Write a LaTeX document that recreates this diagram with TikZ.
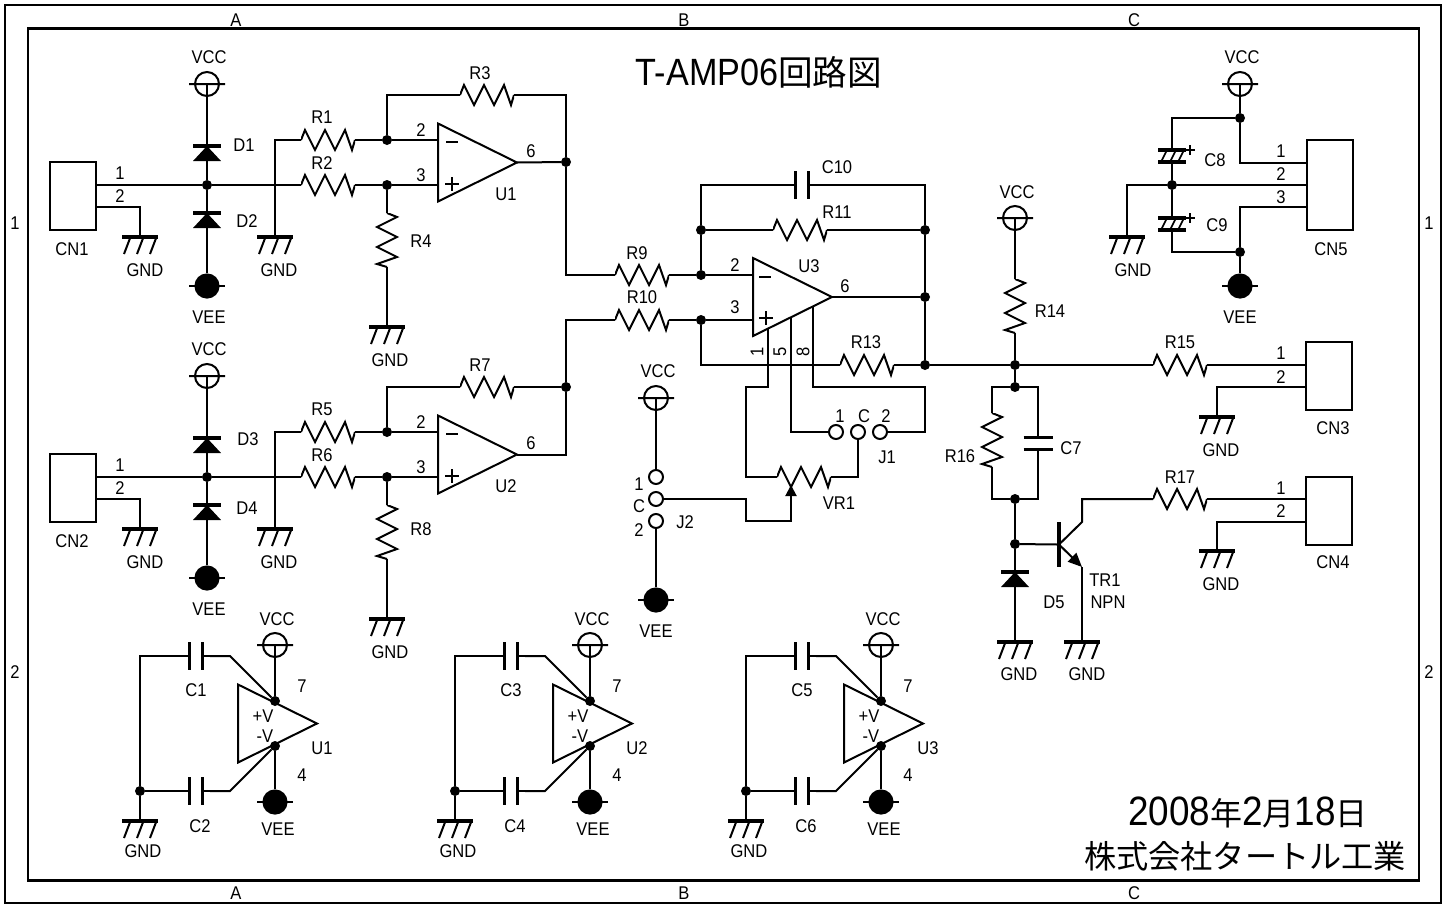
\documentclass[tikz,border=0pt]{standalone}
\usepackage{fontspec}
\setmainfont[FakeStretch=0.9]{Liberation Sans}
\newfontfamily\cjk{Noto Sans CJK JP}
\usetikzlibrary{arrows.meta,shapes.geometric}
\begin{document}
\begin{tikzpicture}
	[x=.5pt, y=-.5pt, inner sep=0pt, outer sep=0pt, line width=1pt,
	txt/.style		= {font=\fontsize{9.2}{11}\selectfont},
	wires/.style	= {line join=miter},
	frame/.style	= {rectangle, draw, line width=1.2pt},
	dot/.style		= {circle, fill, minimum size=5pt},
	jack/.style		= {circle, draw, fill=white, minimum size=7pt},
	conn/.style		= {rectangle, draw, minimum width=23pt, minimum height=34pt},
	wiper/.style	= {-{Triangle[length=5.5pt,width=5.5pt]}},
	emitter/.style	= {-{Triangle[length=7pt,width=6pt]}},
	resh/.style		= {rectangle, minimum width=27pt, minimum height=13pt, path picture={
		\draw [shift={(path picture bounding box.center)}]
			(-27,0) -- (-23,-10) -- (-13,10) -- (-3,-10) -- (7,10) -- (17,-10) -- (24,10) -- (27,0);}},
	resv/.style		= {rectangle, minimum width=13pt, minimum height=27pt, path picture={
		\draw [shift={(path picture bounding box.center)}]
			(0,-27) -- (10,-23) -- (-10,-13) -- (10,-3) -- (-10,7) -- (10,17) -- (-10,24) -- (0,27);}},
	capv/.style		= {rectangle, minimum width=14pt, minimum height=16pt, path picture={
		\draw [shift={(path picture bounding box.center)}] (-14,0) -- (-6.5,0) (6.5,0) -- (14,0);
		\draw [shift={(path picture bounding box.center)}, line width=1.9pt] (-6.5,-14) -- (-6.5,14) (6.5,-14) -- (6.5,14);}},
	caph/.style		= {rectangle, minimum width=16pt, minimum height=14pt, path picture={
		\draw [shift={(path picture bounding box.center)}] (0,-14) -- (0,-6) (0,6) -- (0,14);
		\draw [shift={(path picture bounding box.center)}, line width=1.9pt] (-14.5,-6) -- (14.5,-6) (-14.5,6) -- (14.5,6);}},
	polar/.style	= {rectangle, minimum width=23pt, minimum height=15pt, path picture={
		\draw [shift={(path picture bounding box.center)}] (0,-15) -- (0,-6) (0,6) -- (0,15);
		\draw [shift={(path picture bounding box.center)}, line width=1.9pt] (-14,-6) -- (14,-6) (-14,6) -- (14,6);
		\draw [shift={(path picture bounding box.center)}, line width=.8pt] (-11,6) -- (-5,-6) (-2,6) -- (4,-6) (6,6) -- (12,-6);
		\draw [shift={(path picture bounding box.center)}, line width=1.2pt] (13,-6) -- (23,-6) (18,-11) -- (18,-1);}},
	diode/.style	= {rectangle, minimum width=15pt, minimum height=9pt, path picture={
		\draw [shift={(path picture bounding box.center)}] (0,-9) -- (0,9);
		\draw [shift={(path picture bounding box.center)}, line width=1.8pt] (-14,-7.5) -- (14,-7.5);
		\fill [shift={(path picture bounding box.center)}] (0,-7.5) -- (14,7.5) -- (-14,7.5) -- cycle;}},
	vccsym/.style	= {rectangle, minimum width=19pt, minimum height=14pt, path picture={
		\draw [shift={(path picture bounding box.center)}] (0,0) circle [radius=6pt] (-18,0) -- (18,0);}},
	veesym/.style	= {rectangle, minimum width=19pt, minimum height=13pt, path picture={
		\draw [shift={(path picture bounding box.center)}] (-18,0) -- (18,0);
		\fill [shift={(path picture bounding box.center)}] (0,0) circle [radius=6.3pt];}},
	gnd/.style		= {rectangle, minimum width=20pt, minimum height=10pt, path picture={
		\draw [shift={(path picture bounding box.center)}, line width=2pt] (-18,-8) -- (18,-8);
		\draw [shift={(path picture bounding box.center)}] (-9.5,-8) -- (-16,9) (3.5,-8) -- (-3,9) (16.5,-8) -- (10,9);}},
	opamp/.style	= {isosceles triangle, isosceles triangle stretches, draw, anchor=lower side, minimum width=39pt, minimum height=39.5pt},
	minus/.style	= {rectangle, fill, minimum width=6pt, minimum height=1.3pt},
	plus/.style		= {rectangle, minimum width=7pt, minimum height=7pt, path picture={
		\draw [shift={(path picture bounding box.center)}, line width=1.3pt] (-7,0) -- (7,0) (0,-7) -- (0,7);}},
	base/.style		= {rectangle, fill, minimum width=1.8pt, minimum height=22.5pt}]
	
	\useasboundingbox (0, 0) rectangle (1446, 905);
	
	\node at (723, 454)		[frame, minimum width=718pt, minimum height=449pt]	(outer)	{};
	\node at (723.5, 454.5)	[frame, minimum width=695.5pt, minimum height=426pt]	(inner)	{};
	
	\node at (236, 20)		[txt]	(ta)	{A};
	\node at (684, 20)		[txt]	(tb)	{B};
	\node at (1134, 20)		[txt]	(tc)	{C};
	\node at (236, 893)		[txt]	(ba)	{A};
	\node at (684, 893)		[txt]	(bb)	{B};
	\node at (1134, 893)	[txt]	(bc)	{C};
	\node at (15, 223)		[txt]	(l1)	{1};
	\node at (15, 672)		[txt]	(l2)	{2};
	\node at (1429, 223)	[txt]	(r1)	{1};
	\node at (1429, 672)	[txt]	(r2)	{2};
	
	\node at (759, 72)		[font=\fontsize{19}{22}\selectfont]		(title)	{T-AMP06{\cjk\fontsize{17.3}{22}\selectfont 回路図}};
	\node at (1248, 812)	[font=\fontsize{20.5}{22}\selectfont]	(date)	{2008{\cjk\fontsize{16}{22}\selectfont 年}2{\cjk\fontsize{16}{22}\selectfont 月}18{\cjk\fontsize{16}{22}\selectfont 日}};
	\node at (1245, 856)	[font=\cjk\fontsize{16.1}{22}\selectfont]	(corp)	{株式会社タートル工業};
	
	\node at (72.5, 196)	[conn]	(CN1)	{};
	\node at (72.5, 488)	[conn]	(CN2)	{};
	\node at (1329, 375.5)	[conn]	(CN3)	{};
	\node at (1329, 510.5)	[conn]	(CN4)	{};
	\node at (1329.5, 185)	[conn, minimum height=45pt]	(CN5)	{};
	
	\coordinate (cn1a) at (95, 185);
	\coordinate (cn1b) at (95, 207);
	\coordinate (cn2a) at (95, 477);
	\coordinate (cn2b) at (95, 499);
	\coordinate (cn3a) at (1306.5, 365);
	\coordinate (cn3b) at (1306.5, 387);
	\coordinate (cn4a) at (1306.5, 499);
	\coordinate (cn4b) at (1306.5, 522);
	\coordinate (cn5a) at (1307, 163);
	\coordinate (cn5b) at (1307, 185);
	\coordinate (cn5c) at (1307, 207);
	
	\node at (207, 84)		[vccsym]	(vcc1)	{};
	\node at (207, 376)		[vccsym]	(vcc2)	{};
	\node at (656, 398)		[vccsym]	(vcc3)	{};
	\node at (1015, 218)	[vccsym]	(vcc4)	{};
	\node at (1240, 84)		[vccsym]	(vcc5)	{};
	\node at (275, 645)		[vccsym]	(vcc6)	{};
	\node at (590, 645)		[vccsym]	(vcc7)	{};
	\node at (881, 645)		[vccsym]	(vcc8)	{};
	
	\node at (207, 286)		[veesym]	(vee1)	{};
	\node at (207, 578)		[veesym]	(vee2)	{};
	\node at (656, 600)		[veesym]	(vee3)	{};
	\node at (1240, 286)	[veesym]	(vee4)	{};
	\node at (275, 802)		[veesym]	(vee5)	{};
	\node at (590, 802)		[veesym]	(vee6)	{};
	\node at (881, 802)		[veesym]	(vee7)	{};
	
	\node at (140, 245)		[gnd]	(g1)	{};
	\node at (275, 245)		[gnd]	(g2)	{};
	\node at (387, 335)		[gnd]	(g3)	{};
	\node at (140, 537)		[gnd]	(g4)	{};
	\node at (275, 537)		[gnd]	(g5)	{};
	\node at (387, 627)		[gnd]	(g6)	{};
	\node at (1217, 425)	[gnd]	(g7)	{};
	\node at (1217, 559)	[gnd]	(g8)	{};
	\node at (1015, 650)	[gnd]	(g9)	{};
	\node at (1082, 650)	[gnd]	(g10)	{};
	\node at (1127, 245)	[gnd]	(g11)	{};
	\node at (140, 829)		[gnd]	(g12)	{};
	\node at (455, 829)		[gnd]	(g13)	{};
	\node at (746, 829)		[gnd]	(g14)	{};
	
	\node at (207, 153.5)	[diode]	(D1)	{};
	\node at (207, 220.5)	[diode]	(D2)	{};
	\node at (207, 445.5)	[diode]	(D3)	{};
	\node at (207, 512.5)	[diode]	(D4)	{};
	\node at (1015, 579.5)	[diode]	(D5)	{};
	
	\node at (328, 140)		[resh]	(R1)	{};
	\node at (328, 185)		[resh]	(R2)	{};
	\node at (487, 95)		[resh]	(R3)	{};
	\node at (387, 240)		[resv]	(R4)	{};
	\node at (328, 432)		[resh]	(R5)	{};
	\node at (328, 477)		[resh]	(R6)	{};
	\node at (487, 387)		[resh]	(R7)	{};
	\node at (387, 532)		[resv]	(R8)	{};
	\node at (642, 275)		[resh]	(R9)	{};
	\node at (642, 320)		[resh]	(R10)	{};
	\node at (800, 230)		[resh]	(R11)	{};
	\node at (867, 365)		[resh]	(R13)	{};
	\node at (1015, 306)	[resv]	(R14)	{};
	\node at (1180, 365)	[resh]	(R15)	{};
	\node at (992, 440)		[resv]	(R16)	{};
	\node at (1180, 499)	[resh]	(R17)	{};
	\node at (804, 477)		[resh]	(VR1)	{};
	
	\node at (802, 185)		[capv]	(C10)	{};
	\node at (196, 656)		[capv]	(C1)	{};
	\node at (196, 791)		[capv]	(C2)	{};
	\node at (511, 656)		[capv]	(C3)	{};
	\node at (511, 791)		[capv]	(C4)	{};
	\node at (802, 656)		[capv]	(C5)	{};
	\node at (802, 791)		[capv]	(C6)	{};
	\node at (1038, 443.5)	[caph]	(C7)	{};
	\node at (1172, 156)	[polar]	(C8)	{};
	\node at (1172, 224)	[polar]	(C9)	{};
	
	\node at (438, 162.5)	[opamp]	(U1)	{};
	\node at (438, 454.5)	[opamp]	(U2)	{};
	\node at (753, 297)		[opamp]	(U3)	{};
	\node at (238, 723.5)	[opamp]	(P1)	{};
	\node at (553, 723.5)	[opamp]	(P2)	{};
	\node at (844, 723.5)	[opamp]	(P3)	{};
	
	\node at (452, 142)		[minus]	(m1)	{};
	\node at (452, 184)		[plus]	(p1)	{};
	\node at (452, 434)		[minus]	(m2)	{};
	\node at (452, 476)		[plus]	(p2)	{};
	\node at (765, 277)		[minus]	(m3)	{};
	\node at (766, 318)		[plus]	(p3)	{};
	
	\node at (207, 185)		[dot]	(n1)	{};
	\node at (387, 140)		[dot]	(n2)	{};
	\node at (387, 185)		[dot]	(n3)	{};
	\node at (566, 162)		[dot]	(n4)	{};
	\node at (207, 477)		[dot]	(n5)	{};
	\node at (387, 432)		[dot]	(n6)	{};
	\node at (387, 477)		[dot]	(n7)	{};
	\node at (566, 387)		[dot]	(n8)	{};
	\node at (701, 230)		[dot]	(n9)	{};
	\node at (701, 275)		[dot]	(n10)	{};
	\node at (701, 320)		[dot]	(n11)	{};
	\node at (925, 230)		[dot]	(n12)	{};
	\node at (925, 297)		[dot]	(n13)	{};
	\node at (925, 365)		[dot]	(n14)	{};
	\node at (1015, 365)	[dot]	(n15)	{};
	\node at (1015, 387)	[dot]	(n16)	{};
	\node at (1015, 499)	[dot]	(n17)	{};
	\node at (1015, 544)	[dot]	(n18)	{};
	\node at (1240, 118)	[dot]	(n19)	{};
	\node at (1172, 185)	[dot]	(n20)	{};
	\node at (1240, 252)	[dot]	(n21)	{};
	\node at (275, 701)		[dot]	(n22)	{};
	\node at (275, 746)		[dot]	(n23)	{};
	\node at (140, 791)		[dot]	(n24)	{};
	\node at (590, 701)		[dot]	(n25)	{};
	\node at (590, 746)		[dot]	(n26)	{};
	\node at (455, 791)		[dot]	(n27)	{};
	\node at (881, 701)		[dot]	(n28)	{};
	\node at (881, 746)		[dot]	(n29)	{};
	\node at (746, 791)		[dot]	(n30)	{};
	
	\node at (836, 432)		[jack]	(j1a)	{};
	\node at (858, 432)		[jack]	(j1c)	{};
	\node at (880, 432)		[jack]	(j1b)	{};
	\node at (656, 477)		[jack]	(j2a)	{};
	\node at (656, 499)		[jack]	(j2c)	{};
	\node at (656, 521)		[jack]	(j2b)	{};
	
	\node at (1059, 544.5)	[base]	(TR1)	{};
	
	\coordinate (r3a)	at (387, 95);
	\coordinate (r3b)	at (566, 95);
	\coordinate (r7a)	at (387, 387);
	\coordinate (c10a)	at (701, 185);
	\coordinate (c10b)	at (925, 185);
	\coordinate (pin1)	at (768, 328);
	\coordinate (pin5)	at (791, 317);
	\coordinate (pin8)	at (813, 306);
	\coordinate (k1)	at (746, 387);
	\coordinate (k2)	at (925, 387);
	\coordinate (k3)	at (746, 499);
	\coordinate (k4)	at (791, 521);
	\coordinate (tip)	at (791, 485);
	\coordinate (qc)	at (1082, 522);
	\coordinate (qe)	at (1082, 567);
	\coordinate (c8a)	at (1172, 118);
	\coordinate (c9a)	at (1172, 252);
	\coordinate (c1k)	at (230, 656);
	\coordinate (c2k)	at (230, 791);
	\coordinate (c3k)	at (545, 656);
	\coordinate (c4k)	at (545, 791);
	\coordinate (c5k)	at (836, 656);
	\coordinate (c6k)	at (836, 791);
	
	\draw [wires] (vcc1.center) -- (D1.north);
	\draw [wires] (D1.south) -- (n1) -- (D2.north);
	\draw [wires] (D2.south) -- (vee1.north);
	\draw [wires] (vcc2.center) -- (D3.north);
	\draw [wires] (D3.south) -- (n5) -- (D4.north);
	\draw [wires] (D4.south) -- (vee2.north);
	
	\draw [wires] (cn1a) -- (n1) -- (R2.west);
	\draw [wires] (cn1b) -| (g1.north);
	\draw [wires] (cn2a) -- (n5) -- (R6.west);
	\draw [wires] (cn2b) -| (g4.north);
	\draw [wires] (R1.west) -| (g2.north);
	\draw [wires] (R5.west) -| (g5.north);
	
	\draw [wires] (R1.east) -- (n2) -- (U1.west |- n2);
	\draw [wires] (R2.east) -- (n3) -- (U1.west |- n3);
	\draw [wires] (n2) -- (r3a) -- (R3.west);
	\draw [wires] (R3.east) -- (r3b) -- (n4);
	\draw [wires] (n3) -- (R4.north);
	\draw [wires] (R4.south) -- (g3.north);
	\draw [wires] (U1.apex) -- (n4);
	\draw [wires] (n4) |- (R9.west);
	
	\draw [wires] (R5.east) -- (n6) -- (U2.west |- n6);
	\draw [wires] (R6.east) -- (n7) -- (U2.west |- n7);
	\draw [wires] (n6) -- (r7a) -- (R7.west);
	\draw [wires] (R7.east) -- (n8);
	\draw [wires] (n7) -- (R8.north);
	\draw [wires] (R8.south) -- (g6.north);
	\draw [wires] (U2.apex) -| (n8);
	\draw [wires] (n8) |- (R10.west);
	
	\draw [wires] (R9.east) -- (n10) -- (U3.west |- n10);
	\draw [wires] (R10.east) -- (n11) -- (U3.west |- n11);
	\draw [wires] (n9) -- (R11.west);
	\draw [wires] (R11.east) -- (n12);
	\draw [wires] (n10) -- (n9) -- (c10a) -- (C10.west);
	\draw [wires] (C10.east) -- (c10b) -- (n12) -- (n13) -- (n14);
	\draw [wires] (U3.apex) -- (n13);
	\draw [wires] (n11) |- (R13.west);
	\draw [wires] (R13.east) -- (n14) -- (n15) -- (R15.west);
	\draw [wires] (R15.east) -- (cn3a);
	\draw [wires] (cn3b) -| (g7.north);
	
	\draw [wires] (pin1) |- (k1) |- (VR1.west);
	\draw [wires] (pin5) |- (j1a);
	\draw [wires] (pin8) |- (k2) |- (j1b);
	\draw [wires] (VR1.east) -| (j1c);
	
	\draw [wires] (vcc3.center) -- (j2a);
	\draw [wires] (j2b) -- (vee3.north);
	\draw [wires, wiper] (j2c) -- (k3) |- (k4) -- (tip);
	
	\draw [wires] (vcc4.center) -- (R14.north);
	\draw [wires] (R14.south) -- (n15) -- (n16);
	\draw [wires] (n16) -| (R16.north);
	\draw [wires] (n16) -| (C7.north);
	\draw [wires] (R16.south) |- (n17);
	\draw [wires] (C7.south) |- (n17);
	\draw [wires] (n17) -- (n18) -- (D5.north);
	\draw [wires] (D5.south) -- (g9.north);
	\draw [wires] (n18) -- (TR1.west);
	\draw [wires] (TR1.center) -- (qc) |- (R17.west);
	\draw [wires, emitter] (TR1.center) -- (qe);
	\draw [wires] (qe) -- (g10.north);
	\draw [wires] (R17.east) -- (cn4a);
	\draw [wires] (cn4b) -| (g8.north);
	
	\draw [wires] (vcc5.center) -- (n19) |- (cn5a);
	\draw [wires] (n19) -- (c8a) -- (C8.north);
	\draw [wires] (C8.south) -- (n20) -- (C9.north);
	\draw [wires] (C9.south) -- (c9a) -- (n21);
	\draw [wires] (n21) |- (cn5c);
	\draw [wires] (n21) -- (vee4.north);
	\draw [wires] (cn5b) -- (n20) -| (g11.north);
	
	\draw [wires] (vcc6.center) -- (n22);
	\draw [wires] (n23) -- (vee5.north);
	\draw [wires] (C1.east) -- (c1k) -- (n22);
	\draw [wires] (C2.east) -- (c2k) -- (n23);
	\draw [wires] (C1.west) -| (n24);
	\draw [wires] (C2.west) -- (n24) -- (g12.north);
	
	\draw [wires] (vcc7.center) -- (n25);
	\draw [wires] (n26) -- (vee6.north);
	\draw [wires] (C3.east) -- (c3k) -- (n25);
	\draw [wires] (C4.east) -- (c4k) -- (n26);
	\draw [wires] (C3.west) -| (n27);
	\draw [wires] (C4.west) -- (n27) -- (g13.north);
	
	\draw [wires] (vcc8.center) -- (n28);
	\draw [wires] (n29) -- (vee7.north);
	\draw [wires] (C5.east) -- (c5k) -- (n28);
	\draw [wires] (C6.east) -- (c6k) -- (n29);
	\draw [wires] (C5.west) -| (n30);
	\draw [wires] (C6.west) -- (n30) -- (g14.north);
	
	\node at (72, 249)		[txt]	(tcn1)	{CN1};
	\node at (120, 173)		[txt]	(tcn1a)	{1};
	\node at (120, 196)		[txt]	(tcn1b)	{2};
	\node at (145, 270)		[txt]	(tg1)	{GND};
	\node at (279, 270)		[txt]	(tg2)	{GND};
	\node at (390, 360)		[txt]	(tg3)	{GND};
	\node at (209, 57)		[txt]	(tvcc1)	{VCC};
	\node at (209, 317)		[txt]	(tvee1)	{VEE};
	\node at (244, 145)		[txt]	(td1)	{D1};
	\node at (247, 221)		[txt]	(td2)	{D2};
	\node at (322, 117)		[txt]	(tr1)	{R1};
	\node at (322, 163)		[txt]	(tr2)	{R2};
	\node at (480, 73)		[txt]	(tr3)	{R3};
	\node at (421, 241)		[txt]	(tr4)	{R4};
	\node at (421, 130)		[txt]	(tu1a)	{2};
	\node at (421, 175)		[txt]	(tu1b)	{3};
	\node at (531, 151)		[txt]	(tu1c)	{6};
	\node at (506, 194)		[txt]	(tu1)	{U1};
	
	\node at (72, 541)		[txt]	(tcn2)	{CN2};
	\node at (120, 465)		[txt]	(tcn2a)	{1};
	\node at (120, 488)		[txt]	(tcn2b)	{2};
	\node at (145, 562)		[txt]	(tg4)	{GND};
	\node at (279, 562)		[txt]	(tg5)	{GND};
	\node at (390, 652)		[txt]	(tg6)	{GND};
	\node at (209, 349)		[txt]	(tvcc2)	{VCC};
	\node at (209, 609)		[txt]	(tvee2)	{VEE};
	\node at (248, 439)		[txt]	(td3)	{D3};
	\node at (247, 508)		[txt]	(td4)	{D4};
	\node at (322, 409)		[txt]	(tr5)	{R5};
	\node at (322, 455)		[txt]	(tr6)	{R6};
	\node at (480, 365)		[txt]	(tr7)	{R7};
	\node at (421, 529)		[txt]	(tr8)	{R8};
	\node at (421, 422)		[txt]	(tu2a)	{2};
	\node at (421, 467)		[txt]	(tu2b)	{3};
	\node at (531, 443)		[txt]	(tu2c)	{6};
	\node at (506, 486)		[txt]	(tu2)	{U2};
	
	\node at (637, 253)		[txt]	(tr9)	{R9};
	\node at (642, 297)		[txt]	(tr10)	{R10};
	\node at (837, 167)		[txt]	(tc10)	{C10};
	\node at (837, 212)		[txt]	(tr11)	{R11};
	\node at (866, 342)		[txt]	(tr13)	{R13};
	\node at (735, 265)		[txt]	(tu3a)	{2};
	\node at (735, 307)		[txt]	(tu3b)	{3};
	\node at (845, 286)		[txt]	(tu3c)	{6};
	\node at (809, 266)		[txt]	(tu3)	{U3};
	\node at (757, 352)		[txt, rotate=90]	(tu3d)	{1};
	\node at (780, 352)		[txt, rotate=90]	(tu3e)	{5};
	\node at (803, 352)		[txt, rotate=90]	(tu3f)	{8};
	\node at (840, 416)		[txt]	(tj1a)	{1};
	\node at (864, 416)		[txt]	(tj1c)	{C};
	\node at (886, 416)		[txt]	(tj1b)	{2};
	\node at (887, 457)		[txt]	(tj1)	{J1};
	\node at (839, 503)		[txt]	(tvr1)	{VR1};
	\node at (658, 371)		[txt]	(tvcc3)	{VCC};
	\node at (656, 631)		[txt]	(tvee3)	{VEE};
	\node at (639, 484)		[txt]	(tj2a)	{1};
	\node at (639, 506)		[txt]	(tj2c)	{C};
	\node at (639, 530)		[txt]	(tj2b)	{2};
	\node at (685, 522)		[txt]	(tj2)	{J2};
	
	\node at (1017, 192)	[txt]	(tvcc4)	{VCC};
	\node at (1050, 311)	[txt]	(tr14)	{R14};
	\node at (1180, 342)	[txt]	(tr15)	{R15};
	\node at (960, 456)		[txt]	(tr16)	{R16};
	\node at (1071, 448)	[txt]	(tc7)	{C7};
	\node at (1180, 477)	[txt]	(tr17)	{R17};
	\node at (1054, 602)	[txt]	(td5)	{D5};
	\node at (1105, 580)	[txt]	(ttr1)	{TR1};
	\node at (1108, 602)	[txt]	(tnpn)	{NPN};
	\node at (1019, 674)	[txt]	(tg9)	{GND};
	\node at (1087, 674)	[txt]	(tg10)	{GND};
	\node at (1281, 353)	[txt]	(tcn3a)	{1};
	\node at (1281, 377)	[txt]	(tcn3b)	{2};
	\node at (1333, 428)	[txt]	(tcn3)	{CN3};
	\node at (1221, 450)	[txt]	(tg7)	{GND};
	\node at (1281, 488)	[txt]	(tcn4a)	{1};
	\node at (1281, 511)	[txt]	(tcn4b)	{2};
	\node at (1333, 562)	[txt]	(tcn4)	{CN4};
	\node at (1221, 584)	[txt]	(tg8)	{GND};
	
	\node at (1242, 57)		[txt]	(tvcc5)	{VCC};
	\node at (1240, 317)	[txt]	(tvee4)	{VEE};
	\node at (1215, 160)	[txt]	(tc8)	{C8};
	\node at (1217, 225)	[txt]	(tc9)	{C9};
	\node at (1133, 270)	[txt]	(tg11)	{GND};
	\node at (1281, 151)	[txt]	(tcn5a)	{1};
	\node at (1281, 174)	[txt]	(tcn5b)	{2};
	\node at (1281, 197)	[txt]	(tcn5c)	{3};
	\node at (1331, 249)	[txt]	(tcn5)	{CN5};
	
	\node at (277, 619)		[txt]	(tvcc6)	{VCC};
	\node at (278, 829)		[txt]	(tvee5)	{VEE};
	\node at (143, 851)		[txt]	(tg12)	{GND};
	\node at (196, 690)		[txt]	(tc1)	{C1};
	\node at (200, 826)		[txt]	(tc2)	{C2};
	\node at (263, 716)		[txt]	(tp1a)	{+V};
	\node at (265, 736)		[txt]	(tp1b)	{-V};
	\node at (302, 686)		[txt]	(tp1c)	{7};
	\node at (302, 775)		[txt]	(tp1d)	{4};
	\node at (322, 748)		[txt]	(tp1)	{U1};
	
	\node at (592, 619)		[txt]	(tvcc7)	{VCC};
	\node at (593, 829)		[txt]	(tvee6)	{VEE};
	\node at (458, 851)		[txt]	(tg13)	{GND};
	\node at (511, 690)		[txt]	(tc3)	{C3};
	\node at (515, 826)		[txt]	(tc4)	{C4};
	\node at (578, 716)		[txt]	(tp2a)	{+V};
	\node at (580, 736)		[txt]	(tp2b)	{-V};
	\node at (617, 686)		[txt]	(tp2c)	{7};
	\node at (617, 775)		[txt]	(tp2d)	{4};
	\node at (637, 748)		[txt]	(tp2)	{U2};
	
	\node at (883, 619)		[txt]	(tvcc8)	{VCC};
	\node at (884, 829)		[txt]	(tvee7)	{VEE};
	\node at (749, 851)		[txt]	(tg14)	{GND};
	\node at (802, 690)		[txt]	(tc5)	{C5};
	\node at (806, 826)		[txt]	(tc6)	{C6};
	\node at (869, 716)		[txt]	(tp3a)	{+V};
	\node at (871, 736)		[txt]	(tp3b)	{-V};
	\node at (908, 686)		[txt]	(tp3c)	{7};
	\node at (908, 775)		[txt]	(tp3d)	{4};
	\node at (928, 748)		[txt]	(tp3)	{U3};
\end{tikzpicture}
\end{document}
